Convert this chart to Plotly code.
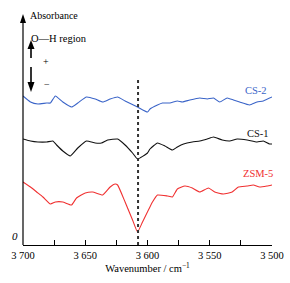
import plotly.graph_objects as go

# CS-2 (blue)
cs2_w = [3700, 3694, 3688, 3681, 3678, 3674, 3668, 3661, 3656, 3649, 3642, 3636, 3630, 3624, 3618,
         3608, 3600, 3598, 3592, 3588, 3582, 3576, 3572, 3566, 3558, 3552, 3547, 3542, 3536, 3531,
         3526, 3518, 3512, 3507, 3500]
cs2_a = [1.49, 1.43, 1.41, 1.42, 1.42, 1.49, 1.43, 1.38, 1.42, 1.48, 1.46, 1.43, 1.46, 1.48, 1.44,
         1.38, 1.33, 1.36, 1.40, 1.42, 1.42, 1.44, 1.43, 1.45, 1.47, 1.46, 1.47, 1.43, 1.47, 1.45,
         1.43, 1.40, 1.43, 1.44, 1.48]
# CS-1 (black)
cs1_w = [3700, 3694, 3688, 3681, 3676, 3673, 3668, 3662, 3656, 3649, 3642, 3637, 3632, 3624, 3618,
         3612, 3608, 3600, 3598, 3592, 3586, 3580, 3576, 3571, 3564, 3558, 3552, 3547, 3540, 3534,
         3528, 3520, 3512, 3507, 3502, 3500]
cs1_a = [1.06, 1.04, 1.03, 1.03, 1.04, 1.00, 0.94, 0.89, 0.97, 1.04, 1.02, 1.02, 1.05, 1.06, 1.00,
         0.92, 0.86, 0.92, 0.96, 1.02, 0.99, 0.95, 0.98, 1.01, 1.03, 1.04, 1.06, 1.08, 1.05, 1.04,
         1.06, 1.05, 1.03, 1.04, 1.01, 1.01]
# ZSM-5 (red)
zsm_w = [3700, 3694, 3689, 3684, 3678, 3674, 3668, 3661, 3657, 3650, 3644, 3636, 3630, 3626, 3624,
         3618, 3612, 3608, 3604, 3596, 3592, 3584, 3580, 3576, 3570, 3564, 3558, 3551, 3546, 3539,
         3532, 3527, 3520, 3515, 3510, 3504, 3500]
zsm_a = [0.63, 0.58, 0.53, 0.48, 0.41, 0.43, 0.43, 0.40, 0.47, 0.52, 0.53, 0.50, 0.58, 0.61, 0.60,
         0.43, 0.25, 0.13, 0.23, 0.43, 0.50, 0.49, 0.48, 0.56, 0.59, 0.57, 0.53, 0.57, 0.53, 0.51,
         0.53, 0.58, 0.59, 0.60, 0.58, 0.59, 0.60]

tick_vals = [3700, 3650, 3600, 3550, 3500]
tick_text = ["3 700", "3 650", "3 600", "3 550", "3 500"]
series_labels = ["CS-2", "CS-1", "ZSM-5"]
marker_w = 3607.6

FONT = "Liberation Serif, Times New Roman, DejaVu Serif, serif"
L, R, T, B = 23, 18, 18, 38
W, H = 290, 283
PW, PH = W - L - R, H - T - B


def px(x):
    return (x - L) / PW


def py(y):
    return (H - B - y) / PH


fig = go.Figure()
for w, a, c in [(cs2_w, cs2_a, "#3a64c8"), (cs1_w, cs1_a, "#111111"), (zsm_w, zsm_a, "#f03030")]:
    fig.add_trace(go.Scatter(x=w, y=a, mode="lines", line=dict(color=c, width=1.1, shape="spline", smoothing=0.4),
                             showlegend=False, hoverinfo="skip"))

fig.update_layout(
    width=W, height=H,
    margin=dict(l=L, r=R, t=T, b=B, autoexpand=False),
    paper_bgcolor="white", plot_bgcolor="white",
    font=dict(family=FONT, size=10.5, color="black"),
    xaxis=dict(range=[3700, 3500], tickvals=tick_vals, ticktext=tick_text, ticks="inside", ticklen=5,
               tickcolor="black", showline=True, linecolor="black", linewidth=1, showgrid=False,
               minor=dict(dtick=25, tick0=3500, ticks="inside", ticklen=5, tickcolor="black", showgrid=False),
               zeroline=False, automargin=False,
               title=dict(text="Wavenumber / cm<sup>−1</sup>", font=dict(size=10.5, family=FONT), standoff=4),
               tickfont=dict(size=10.5, family=FONT)),
    yaxis=dict(range=[0, 2.27], showticklabels=False, ticks="", showline=False, showgrid=False,
               zeroline=False, automargin=False),
)

fig.add_shape(type="line", xref="x", yref="paper", x0=marker_w, x1=marker_w, y0=0, y1=py(80),
              line=dict(color="#333333", width=2, dash="dot"))

# y-axis with arrowhead
fig.add_shape(type="line", xref="paper", yref="paper", x0=0, x1=0, y0=0, y1=py(22),
              line=dict(color="black", width=1.2))
fig.add_shape(type="path", xref="paper", yref="paper", fillcolor="black", line=dict(width=0),
              path=f"M {px(23)} {py(14)} L {px(20)} {py(23)} L {px(26)} {py(23)} Z")
# double arrow (+ / −)
fig.add_shape(type="line", xref="paper", yref="paper", x0=px(31), x1=px(31), y0=py(47), y1=py(58),
              line=dict(color="black", width=1.6))
fig.add_shape(type="path", xref="paper", yref="paper", fillcolor="black", line=dict(width=0),
              path=f"M {px(31)} {py(40)} L {px(27.5)} {py(49)} L {px(34.5)} {py(49)} Z")
fig.add_shape(type="line", xref="paper", yref="paper", x0=px(31), x1=px(31), y0=py(67), y1=py(83),
              line=dict(color="black", width=1.6))
fig.add_shape(type="path", xref="paper", yref="paper", fillcolor="black", line=dict(width=0),
              path=f"M {px(31)} {py(92)} L {px(27.5)} {py(82)} L {px(34.5)} {py(82)} Z")

ann = [
    dict(x=3513, y=1.55, text=series_labels[0], color="#3a64c8"),
    dict(x=3511, y=1.12, text=series_labels[1], color="#111111"),
    dict(x=3511, y=0.72, text=series_labels[2], color="#f03030"),
]
for a in ann:
    fig.add_annotation(x=a["x"], y=a["y"], xref="x", yref="y", text=a["text"], showarrow=False,
                       font=dict(color=a["color"], size=10.5, family=FONT))

fig.add_annotation(x=px(28), y=py(8), xref="paper", yref="paper", text="Absorbance", showarrow=False,
                   font=dict(size=10, family=FONT))
fig.add_annotation(x=px(29), y=py(31), xref="paper", yref="paper", text="O—H region", showarrow=False,
                   xanchor="left", font=dict(size=10.5, family=FONT))
fig.add_annotation(x=px(41), y=py(54), xref="paper", yref="paper", text="+", showarrow=False,
                   font=dict(size=10, family=FONT))
fig.add_annotation(x=px(42), y=py(77), xref="paper", yref="paper", text="−", showarrow=False,
                   font=dict(size=10, family=FONT))
fig.add_annotation(x=px(20), y=py(244), xref="paper", yref="paper", text="<i>0</i>", showarrow=False,
                   xanchor="right", font=dict(size=11, family=FONT))

fig.write_html("out.html", config={"displayModeBar": False, "staticPlot": True})
with open("out.html", encoding="utf-8") as f:
    html = f.read()
html = html.replace("<head>", "<head><style>html,body{margin:0;padding:0;overflow:hidden;}</style>", 1)
with open("out.html", "w", encoding="utf-8") as f:
    f.write(html)
